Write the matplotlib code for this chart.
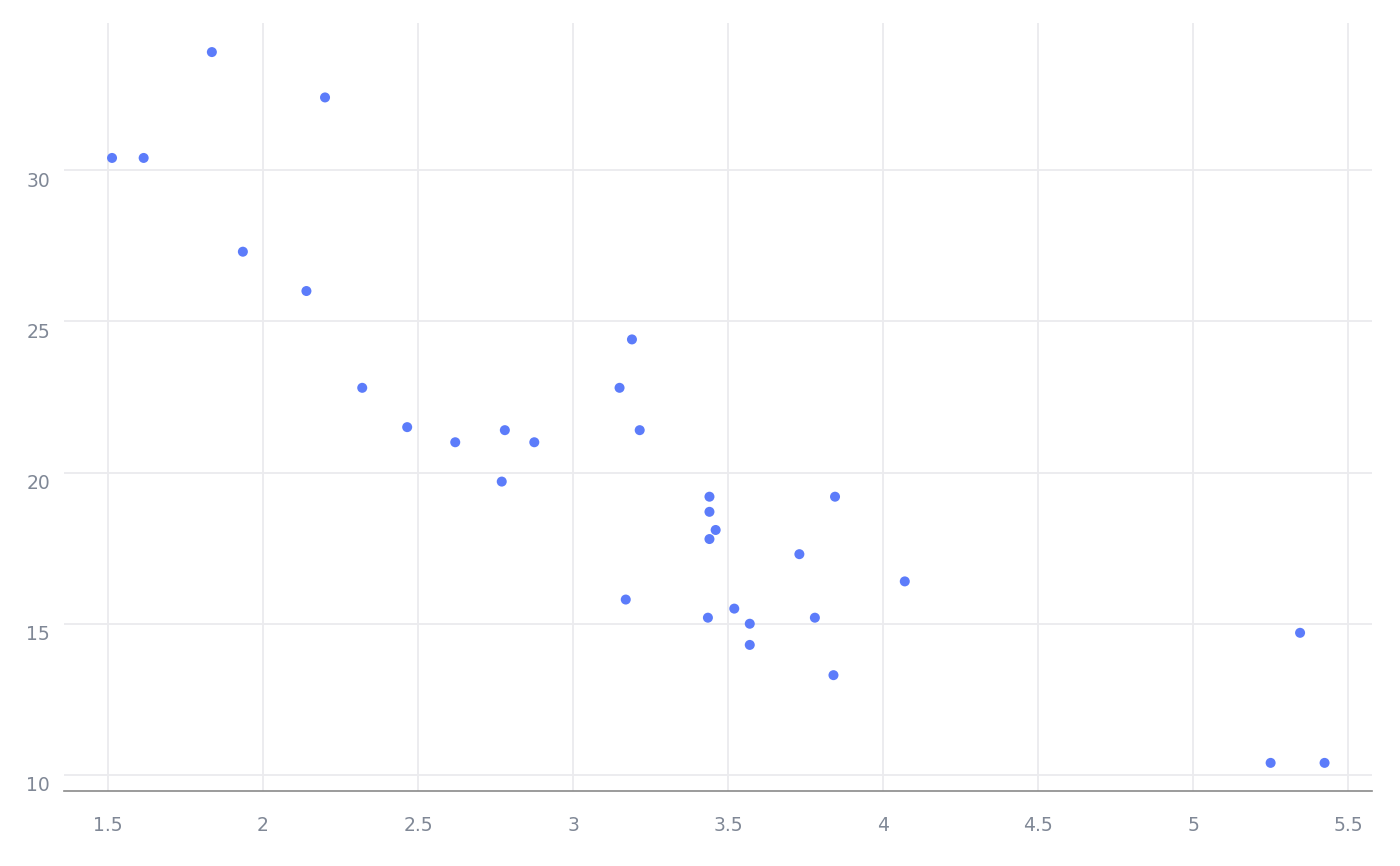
import numpy as np
import matplotlib.pyplot as plt
from matplotlib.transforms import ScaledTranslation

# mtcars: weight (1000 lbs) vs miles per gallon
wt = [2.620, 2.875, 2.320, 3.215, 3.440, 3.460, 3.570, 3.190, 3.150, 3.440,
      3.440, 4.070, 3.730, 3.780, 5.250, 5.424, 5.345, 2.200, 1.615, 1.835,
      2.465, 3.520, 3.435, 3.840, 3.845, 1.935, 2.140, 1.513, 3.170, 2.770,
      3.570, 2.780]
mpg = [21.0, 21.0, 22.8, 21.4, 18.7, 18.1, 14.3, 24.4, 22.8, 19.2,
       17.8, 16.4, 17.3, 15.2, 10.4, 10.4, 14.7, 32.4, 30.4, 33.9,
       21.5, 15.5, 15.2, 13.3, 19.2, 27.3, 26.0, 30.4, 15.8, 19.7,
       15.0, 21.4]

x_ticks = [1.5, 2, 2.5, 3, 3.5, 4, 4.5, 5, 5.5]
x_labels = ["1.5", "2", "2.5", "3", "3.5", "4", "4.5", "5", "5.5"]
y_ticks = [10, 15, 20, 25, 30]

text_color = "#808896"
grid_color = "#ebebee"

fig = plt.figure(figsize=(14, 8.66), dpi=100)
ax = fig.add_axes([0.0457, 0.0866, 0.9343, 0.8868])

ax.scatter(wt, mpg, s=52, color="#5c7cfa", edgecolors="none", zorder=3)

ax.set_xlim(1.358, 5.577)
ax.set_ylim(9.47, 34.86)
ax.set_xticks(x_ticks)
ax.set_xticklabels(x_labels)
ax.set_yticks(y_ticks)

ax.grid(True, color=grid_color, linewidth=1.3, zorder=0)
ax.set_axisbelow(True)

for side in ["top", "right", "left"]:
    ax.spines[side].set_visible(False)
ax.spines["bottom"].set_color("#8a8a8a")
ax.spines["bottom"].set_linewidth(1.2)

ax.tick_params(axis="both", length=0, labelsize=13.5, labelcolor=text_color)
ax.tick_params(axis="x", pad=18)
ax.tick_params(axis="y", pad=10)

# y labels sit a little below their grid lines
shift = ScaledTranslation(0, -9 / 100, fig.dpi_scale_trans)
for lab in ax.get_yticklabels():
    lab.set_transform(lab.get_transform() + shift)

fig.savefig("out.png", dpi=100)
